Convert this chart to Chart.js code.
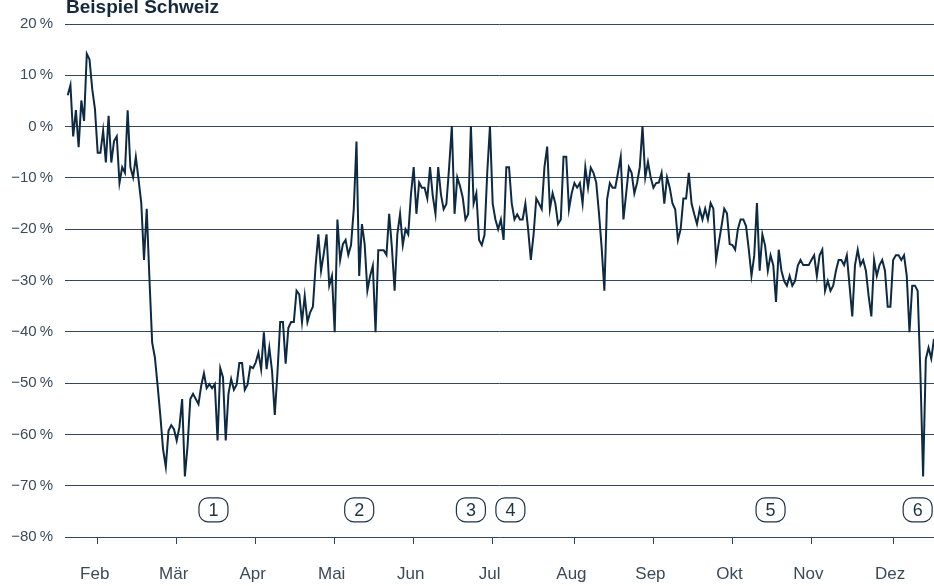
<!DOCTYPE html>
<html>
<head>
<meta charset="utf-8">
<script src="https://cdn.jsdelivr.net/npm/chart.js@4.4.1/dist/chart.umd.min.js"></script>
<style>
  html, body { margin: 0; padding: 0; background: #fff; }
  #wrap { width: 934px; height: 586px; position: relative; }
</style>
</head>
<body>
<div id="wrap"><canvas id="changeChart"></canvas></div>
<script>
// Veränderung gegenüber Vorjahr, Tageswerte in Prozent
const changeValues = [
  6.1, 8.1, -1.9, 3.2, -4.0, 5.1, 1.1, 14.2, 13.1, 7.3,
  3.4, -5.1, -5.1, -0.8, -7.0, 2.1, -7.0, -2.8, -1.9, -11.0,
  -7.9, -9.0, 3.2, -7.9, -9.9, -5.9, -10.3, -14.9, -26.0, -16.0,
  -29.7, -42.1, -45.0, -50.5, -56.4, -62.9, -66.3, -59.3, -58.2, -59.0,
  -61.2, -58.6, -53.1, -68.2, -62.2, -53.1, -52.1, -53.1, -54.1, -50.5,
  -48.1, -51.0, -50.2, -51.0, -50.2, -61.2, -47.1, -48.9, -61.2, -52.1,
  -49.2, -51.3, -50.3, -46.1, -46.1, -51.3, -50.3, -46.8,
  -47.1, -46.0, -44.1, -47.3, -40.1, -47.3, -43.1, -47.6, -56.2, -47.9,
  -38.1, -38.1, -46.2, -39.2, -38.1, -38.1, -32.0, -32.7, -38.1, -33.0,
  -38.1, -36.2, -35.1, -27.1, -21.0, -28.1, -24.7, -21.0, -31.0, -29.1,
  -40.1, -18.1, -26.0, -22.9, -22.1, -25.0, -23.1, -16.1, -2.9, -29.1,
  -19.0, -22.9, -32.0, -29.1, -27.1, -40.1, -24.1, -24.1, -24.1, -25.0,
  -17.0, -23.6, -32.0, -21.0, -17.0, -23.1, -20.0, -21.0, -13.2, -7.9,
  -17.0, -10.9, -11.9, -11.9, -14.0, -7.9, -13.5, -17.0, -7.9, -13.2,
  -16.1, -15.1, -8.0, 0.1, -17.0, -9.9, -11.6, -13.8, -18.1, -17.1,
  0.1, -15.0, -13.0, -22.1, -23.1, -21.1, -9.0, 0.1, -15.0, -18.1,
  -20.0, -18.1, -22.1, -7.9, -7.9, -15.0, -18.1, -17.1, -18.1, -18.1,
  -15.0, -20.0, -26.0, -21.1, -14.0, -15.0, -16.1, -7.9, -3.9, -16.1,
  -13.0, -15.0, -19.0, -18.1, -5.9, -5.9, -16.1, -13.0, -11.0, -11.9,
  -11.0, -15.0, -7.9, -11.9, -8.0, -9.0, -10.9, -16.8, -23.6, -32.0,
  -14.2, -11.0, -11.9, -11.9, -9.0, -5.9, -18.1, -13.0, -7.9, -9.0,
  -13.0, -11.0, -7.9, 0.1, -9.9, -6.9, -9.9, -11.9, -11.0, -10.9,
  -9.0, -15.0, -9.9, -11.9, -15.0, -16.1, -22.1, -20.0, -14.0, -14.0,
  -9.0, -15.0, -17.1, -19.0, -16.1,
  -18.1, -16.0, -18.1, -14.9, -16.0, -26.0, -22.6, -19.4, -16.0, -16.9,
  -22.9, -23.1, -24.0, -20.0, -18.1, -18.1, -19.4, -23.9, -29.1, -25.2,
  -14.9, -28.1, -21.0, -23.2, -28.1, -25.1, -27.0, -34.2, -24.0, -28.1,
  -30.1, -31.0, -29.1, -31.0, -30.1, -27.1, -26.0, -27.0, -27.0, -27.0,
  -26.0, -25.1, -29.1, -25.1, -24.0, -32.0, -30.1, -32.0, -31.0, -28.1,
  -26.0, -26.0, -27.0, -25.1, -31.0, -37.0, -27.0, -24.0, -27.0, -26.0,
  -28.1, -33.0, -37.0, -26.0, -29.1, -27.0, -26.0, -28.1, -35.1, -35.1,
  -26.0, -25.1, -25.1, -26.0, -25.1, -29.1, -40.1, -31.0, -31.0, -32.0,
  -47.9, -68.2, -45.3, -43.1, -45.2, -41.4
];

const monthLabels = ["Feb","Mär","Apr","Mai","Jun","Jul","Aug","Sep","Okt","Nov","Dez"];
const monthStarts = [11, 40, 69, 98, 127, 156, 186, 215, 244, 273, 303];

const noteLabels = ["1","2","3","4","5","6"];
const noteDays = [53.5, 107, 148, 162.5, 258, 312];
const noteLevel = -74.7;

const chartTitle = "Beispiel Schweiz";

const navy = "#0e2a42";
const gridColor = "#33475a";
const textColor = "#3b4b5a";
const fontFamily = '"Liberation Sans", Arial, sans-serif';

const points = changeValues.map((v, i) => ({ x: i, y: v }));

const titlePlugin = {
  id: "titleText",
  afterDraw(chart){
    const c = chart.ctx;
    c.save();
    c.font = "bold 19px " + fontFamily;
    c.fillStyle = "#14293c";
    c.textBaseline = "alphabetic";
    c.fillText(chartTitle, chart.chartArea.left + 1, 12.5);
    c.restore();
  }
};

const notesPlugin = {
  id: "notes",
  afterDatasetsDraw(chart){
    const c = chart.ctx;
    const xs = chart.scales.x, ys = chart.scales.y;
    c.save();
    noteLabels.forEach((label, i) => {
      const x = xs.getPixelForValue(noteDays[i]);
      const y = ys.getPixelForValue(noteLevel);
      const w = 29, h = 24;
      c.beginPath();
      c.roundRect(x - w/2, y - h/2, w, h, 9);
      c.fillStyle = "#fff";
      c.fill();
      c.lineWidth = 1.2;
      c.strokeStyle = "#1d3347";
      c.stroke();
      c.fillStyle = "#1d3347";
      c.font = "18px " + fontFamily;
      c.textAlign = "center";
      c.textBaseline = "middle";
      c.fillText(label, x, y + 1);
    });
    c.restore();
  }
};

const ctx = document.getElementById("changeChart");

const changeChart = new Chart(ctx, {
  type: "line",
  data: {
    datasets: [
      {
        label: "Veränderung",
        data: points,
        borderColor: navy,
        borderWidth: 2,
        pointRadius: 0,
        tension: 0,
        fill: false
      }
    ]
  },
  options: {
    responsive: true,
    maintainAspectRatio: false,
    animation: false,
    layout: { padding: { top: 24, right: 0, bottom: 0, left: 0 } },
    plugins: {
      legend: { display: false },
      tooltip: { enabled: false }
    },
    scales: {
      x: {
        type: "linear",
        min: -1,
        max: changeValues.length - 1,
        afterBuildTicks: (scale) => {
          scale.ticks = monthStarts.map(v => ({ value: v }));
        },
        afterFit: (scale) => { scale.height = 49; },
        grid: {
          drawOnChartArea: false,
          drawTicks: true,
          tickLength: 7,
          color: gridColor
        },
        border: { display: false },
        ticks: {
          autoSkip: false,
          maxRotation: 0,
          padding: 20,
          labelOffset: -3,
          color: textColor,
          font: { family: fontFamily, size: 17 },
          callback: (v, i) => monthLabels[i]
        }
      },
      y: {
        min: -80,
        max: 20,
        afterFit: (scale) => { scale.width = 65; },
        grid: {
          color: gridColor,
          lineWidth: 1,
          drawTicks: false
        },
        border: { display: false },
        ticks: {
          stepSize: 10,
          padding: 12,
          color: textColor,
          font: { family: fontFamily, size: 15 },
          callback: (v) => (v < 0 ? "\u2212" + Math.abs(v) : v) + "\u202F%"
        }
      }
    }
  },
  plugins: [titlePlugin, notesPlugin]
});
</script>
</body>
</html>
